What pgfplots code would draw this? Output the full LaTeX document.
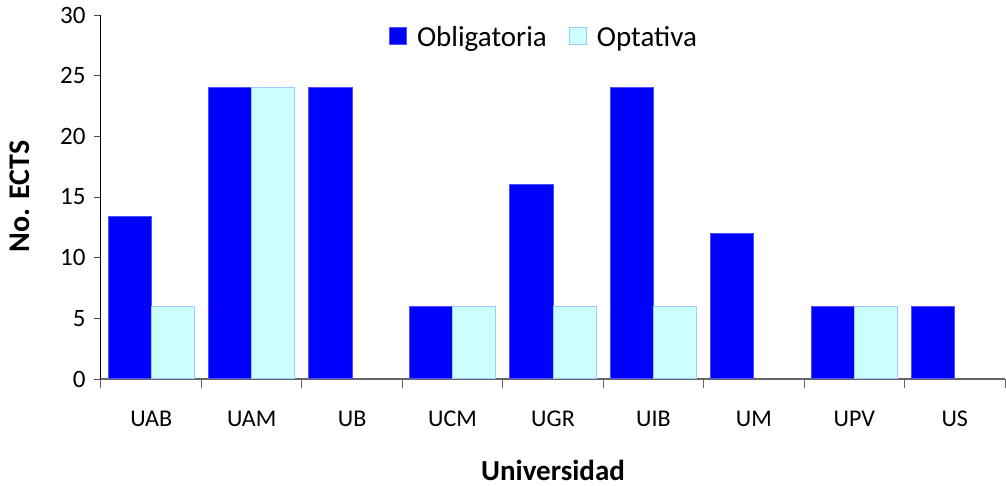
\documentclass[border=0pt]{standalone}
\usepackage{fontspec}
\setmainfont{Carlito}
\usepackage{pgfplots}
\pgfplotsset{compat=1.18}
\definecolor{oblig}{RGB}{0,0,255}
\definecolor{obligedge}{RGB}{80,80,255}
\definecolor{optat}{RGB}{204,255,255}
\definecolor{optatedge}{RGB}{153,204,255}
\begin{document}
\begin{tikzpicture}
\path[use as bounding box] (-101pt,-107pt) rectangle (905pt,379pt);
\begin{axis}[
  at={(0pt,0pt)}, anchor=south west,
  scale only axis,
  width=904pt, height=364pt,
  ymin=0, ymax=30, ytick={0,5,...,30},
  xmin=-0.5, xmax=8.5,
  xtick={0,...,8},
  xticklabels={UAB,UAM,UB,UCM,UGR,UIB,UM,UPV,US},
  minor xtick={-0.5,0.5,...,8.5},
  major x tick style={draw=none},
  minor x tick style={draw=gray!80!black, line width=1pt},
  minor tick length=9pt,
  major tick length=7pt,
  y tick style={draw=gray!60!black, line width=0.8pt},
  tick align=outside,
  axis x line*=bottom, axis y line*=left,
  x axis line style={draw=gray!80!black, line width=1.2pt, -},
  y axis line style={draw=black, line width=1pt, -},
  ybar=0pt, bar width=0.43,
  x tick label style={font=\fontsize{24}{27}\selectfont, anchor=base, yshift=-40pt},
  y tick label style={font=\fontsize{25}{28}\selectfont, xshift=-5pt},
  /pgf/number format/assume math mode=true,
  xlabel={\textbf{Universidad}},
  ylabel={\textbf{No. ECTS}},
  xlabel style={font=\fontsize{29}{32}\selectfont, at={(axis description cs:0.5,-0.25)}, anchor=center},
  ylabel style={font=\fontsize{30}{33}\selectfont, at={(axis description cs:-0.0896,0.501)}, anchor=center},
  legend style={at={(axis description cs:0.49,0.94)}, anchor=center, draw=none, fill=none,
    legend columns=2, font=\fontsize{29}{32}\selectfont,
    /tikz/every odd column/.append style={column sep=8pt},
    /tikz/every even column/.append style={column sep=20pt},
    legend cell align=left},
  legend image code/.code={\draw[#1] (0pt,-8pt) rectangle (17pt,9pt);},
]
\addplot[fill=oblig, draw=obligedge, line width=1pt] coordinates {
 (0,13.4) (1,24) (2,24) (3,6) (4,16) (5,24) (6,12) (7,6) (8,6)};
\addplot[fill=optat, draw=optatedge, line width=1pt] coordinates {
 (0,6) (1,24) (3,6) (4,6) (5,6) (7,6)};
\legend{Obligatoria, Optativa}
\end{axis}
\end{tikzpicture}
\end{document}
